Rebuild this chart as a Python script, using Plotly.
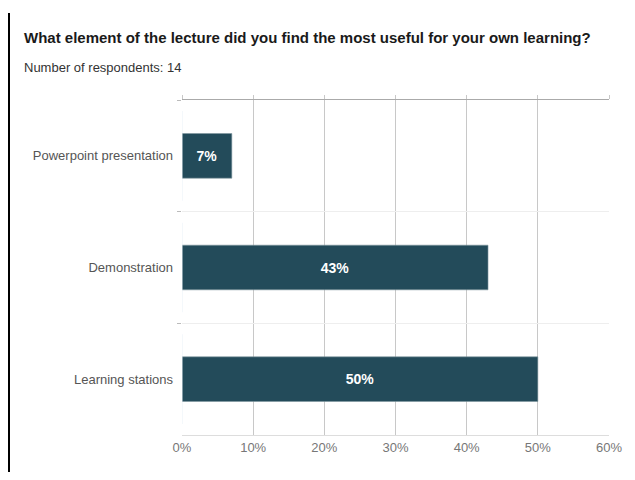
import plotly.graph_objects as go

categories = ["Powerpoint presentation", "Demonstration", "Learning stations"]
values = [7, 43, 50]
labels = ["7%", "43%", "50%"]
x_ticks = [0, 10, 20, 30, 40, 50, 60]
x_tick_text = ["0%", "10%", "20%", "30%", "40%", "50%", "60%"]

# page body has an 8px margin; figure coordinates are page coordinates - 8
OFF = 8
W, H = 635 - 2 * OFF, 480 - 2 * OFF
L, T = 182 - OFF, 100 - OFF
R = W - (609 - OFF)
B = H - (435 - OFF)
pw, ph = W - L - R, H - T - B

FONT = "Liberation Sans, Arial, sans-serif"

fig = go.Figure()
fig.add_trace(go.Bar(
    y=categories, x=values, orientation="h",
    text=labels, textposition="inside", insidetextanchor="middle",
    textfont=dict(family=FONT, size=14, color="white", weight="bold"),
    marker=dict(color="#234b5a", line=dict(color="#7f97a0", width=0.6)),
    width=0.4, hoverinfo="skip", cliponaxis=False,
))
# invisible trace to carry the top axis
fig.add_trace(go.Bar(y=categories, x=[0, 0, 0], orientation="h", xaxis="x2",
                     marker=dict(color="rgba(0,0,0,0)"), showlegend=False,
                     hoverinfo="skip"))

fig.update_layout(
    width=W, height=H,
    margin=dict(l=L, r=R, t=T, b=B, autoexpand=False),
    paper_bgcolor="white", plot_bgcolor="white",
    showlegend=False, barmode="overlay",
    font=dict(family=FONT),
    title=dict(
        text="<b>What element of the lecture did you find the most useful for your own learning?</b>",
        x=(24 - OFF) / W, xanchor="left", xref="container",
        y=1 - (38 - OFF) / H, yanchor="middle", yref="container",
        font=dict(family=FONT, size=15, color="#1a1a1a"),
    ),
    xaxis=dict(
        range=[0, 60], tickvals=x_ticks, ticktext=x_tick_text,
        showgrid=True, gridcolor="#c8c8c8", gridwidth=1,
        zeroline=False, showline=True, linecolor="#dddddd", linewidth=1,
        ticks="", tickfont=dict(family=FONT, size=13, color="#777777"),
        fixedrange=True, automargin=False,
    ),
    xaxis2=dict(
        overlaying="x", side="top", matches="x", range=[0, 60],
        tickvals=x_ticks, showticklabels=False,
        showgrid=False, zeroline=False, showline=True,
        linecolor="#aaaaaa", linewidth=1,
        ticks="outside", ticklen=4, tickcolor="#c8c8c8",
        automargin=False,
    ),
    yaxis=dict(
        type="category", categoryorder="array", categoryarray=categories,
        autorange="reversed", tickson="boundaries",
        ticks="outside", ticklen=4, tickcolor="#bbbbbb",
        showgrid=True, gridcolor="#eeeeee",
        showline=False, zeroline=False,
        tickfont=dict(family=FONT, size=13, color="#555555"),
        ticklabelstandoff=8, automargin=False,
    ),
    annotations=[dict(
        text="Number of respondents: 14", showarrow=False,
        xref="paper", yref="paper",
        x=(22 - 182) / pw, xanchor="left",
        y=(435 - 68) / ph, yanchor="middle",
        font=dict(family=FONT, size=13, color="#333333"),
    )],
    shapes=[dict(
        type="line", xref="paper", yref="paper",
        x0=(9 - 182) / pw, x1=(9 - 182) / pw,
        y0=-B / ph - 0.05, y1=(435 - 13) / ph,
        line=dict(color="black", width=2),
    )],
)

fig.write_html("out.html")
